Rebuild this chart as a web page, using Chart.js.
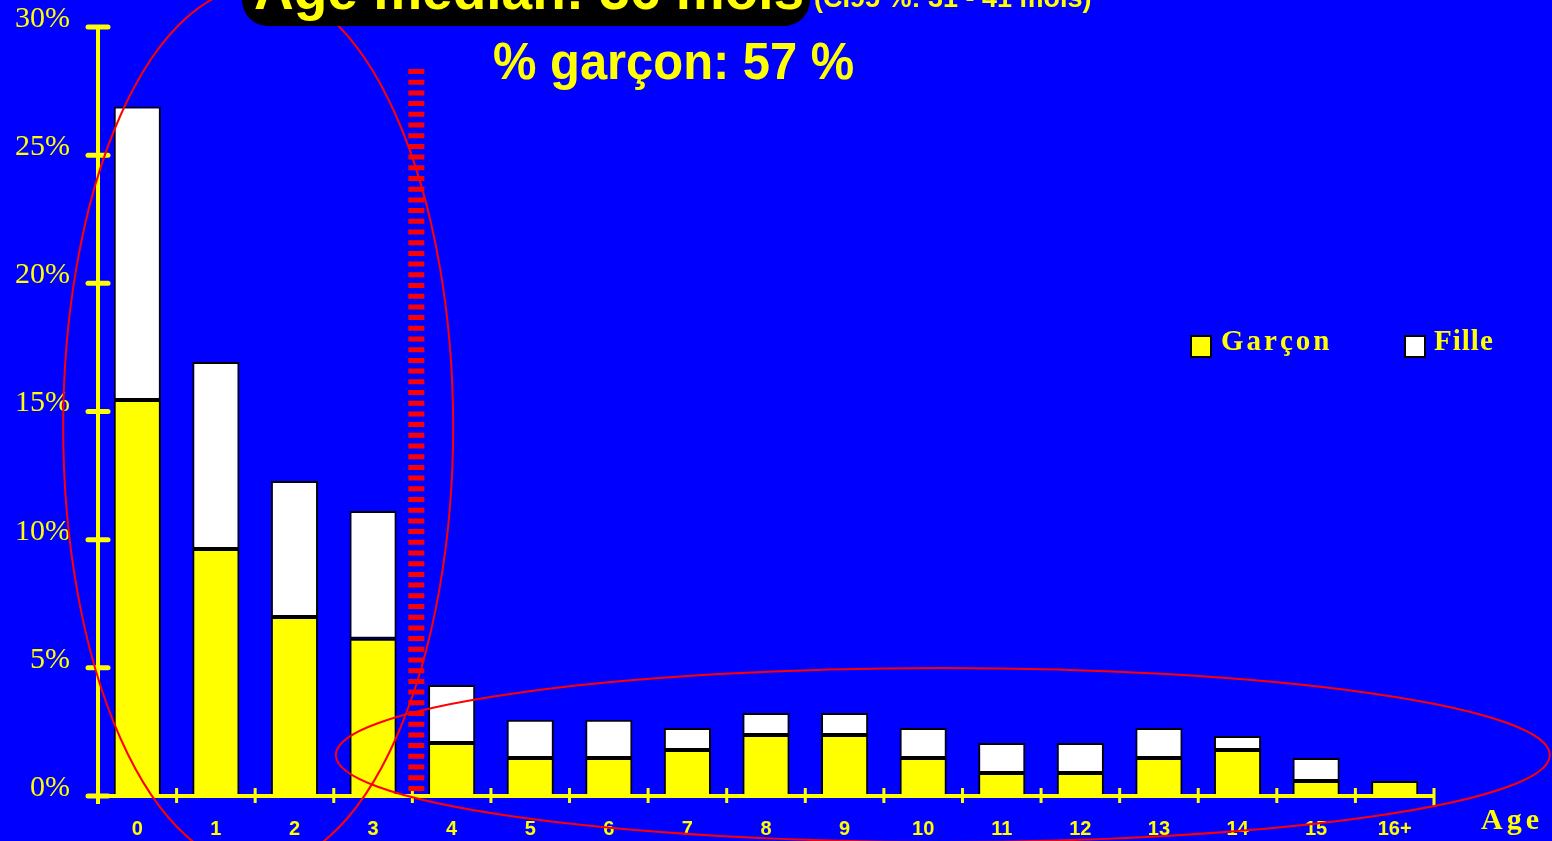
<!DOCTYPE html>
<html>
<head>
<meta charset="utf-8">
<script src="https://cdn.jsdelivr.net/npm/chart.js@4.4.3/dist/chart.umd.min.js"></script>
<style>
  html, body { margin: 0; padding: 0; background: #0000ff; overflow: hidden; }
  #wrap { position: relative; width: 1552px; height: 841px; }
  #wrap canvas { position: absolute; left: 0; top: 0; }
  .title-box {
    position: absolute; left: 242px; top: -40px; width: 568px; height: 66px;
    background: #000; border-radius: 0 0 26px 26px;
  }
  .txt { position: absolute; color: #ffff00; white-space: nowrap; font-family: "Liberation Sans", Arial, sans-serif; font-weight: bold; }
  .main { left: 254px; top: -37px; font-size: 55px; line-height: 55px; }
  .ci { left: 814px; top: -15px; font-size: 27px; line-height: 27px; }
  .boys { left: 493px; top: 33px; font-size: 52px; line-height: 56px; transform: scaleX(0.94); transform-origin: left top; }
  .leg { position: absolute; top: 324px; font-family: "Liberation Serif", "Times New Roman", serif; font-weight: bold; font-size: 29px; color: #ffff00; letter-spacing: 3px; }
  .sw { position: absolute; top: 335px; width: 18px; height: 19px; border: 2px solid #000; }
  .age { position: absolute; left: 1481px; top: 802px; font-family: "Liberation Serif", "Times New Roman", serif; font-weight: bold; font-size: 30px; color: #ffff00; letter-spacing: 4px; }
</style>
</head>
<body>
<div id="wrap">
  <canvas id="c"></canvas>
  <div class="title-box"></div>
  <div class="txt main">Age médian: 36 mois</div>
  <div class="txt ci">(CI95 %: 31 - 41 mois)</div>
  <div class="txt boys">% garçon: 57 %</div>
  <div class="sw" style="left:1190px;background:#ffff00"></div>
  <div class="leg" style="left:1221px">Garçon</div>
  <div class="sw" style="left:1404px;background:#ffffff"></div>
  <div class="leg" style="left:1434px;letter-spacing:1px">Fille</div>
  <div class="age">Age</div>
</div>
<script>
const ages = ['0', '1', '2', '3', '4', '5', '6', '7', '8', '9', '10', '11', '12', '13', '14', '15', '16+'];
const garcon = [15.45, 9.64, 6.98, 6.13, 2.07, 1.48, 1.48, 1.79, 2.38, 2.38, 1.48, 0.9, 0.9, 1.48, 1.79, 0.59, 0.59];
const fille = [11.45, 7.29, 5.31, 4.99, 2.26, 1.49, 1.49, 0.86, 0.86, 0.86, 1.17, 1.17, 1.17, 1.17, 0.55, 0.89, 0];
const yTicks = [0, 5, 10, 15, 20, 25, 30];

const YELLOW = '#ffff00';
const RED = '#ff0000';

// axes with ticks crossing the line, plus the red annotations
const decor = {
  id: 'decor',
  afterDatasetsDraw(chart) {
    const { ctx, chartArea: a, scales: { x, y } } = chart;
    const step = x.getPixelForValue(1) - x.getPixelForValue(0);
    ctx.save();
    ctx.strokeStyle = YELLOW;
    // y axis
    ctx.lineWidth = 4;
    ctx.beginPath();
    ctx.moveTo(a.left, y.getPixelForValue(30));
    ctx.lineTo(a.left, a.bottom + 8);
    ctx.stroke();
    ctx.lineCap = 'round';
    ctx.lineWidth = 5;
    yTicks.forEach(v => {
      const py = y.getPixelForValue(v);
      ctx.beginPath();
      ctx.moveTo(a.left - 10, py);
      ctx.lineTo(a.left + 10, py);
      ctx.stroke();
    });
    // x axis
    ctx.lineCap = 'butt';
    ctx.lineWidth = 4;
    ctx.beginPath();
    ctx.moveTo(a.left, a.bottom);
    ctx.lineTo(a.right, a.bottom);
    ctx.stroke();
    ctx.lineWidth = 3;
    for (let i = 1; i <= ages.length; i++) {
      const px = x.getPixelForValue(i) - step / 2;
      ctx.beginPath();
      ctx.moveTo(px, a.bottom - 8);
      ctx.lineTo(px, a.bottom + (i === ages.length ? 10 : 7));
      ctx.stroke();
    }
    // median marker
    const mx = x.getPixelForValue(3) + step / 2 + 4;
    ctx.strokeStyle = RED;
    ctx.lineWidth = 16;
    ctx.setLineDash([5, 5.7]);
    ctx.beginPath();
    ctx.moveTo(mx, 69);
    ctx.lineTo(mx, a.bottom - 4);
    ctx.stroke();
    ctx.setLineDash([]);
    // ellipses
    ctx.lineWidth = 2;
    ctx.beginPath();
    ctx.ellipse(x.getPixelForValue(1.5) + 3, y.getPixelForValue(14.4), 195, 440, 0, 0, Math.PI * 2);
    ctx.stroke();
    ctx.beginPath();
    ctx.ellipse(x.getPixelForValue(10.25), y.getPixelForValue(1.6), 607, 87, 0, 0, Math.PI * 2);
    ctx.stroke();
    ctx.restore();
  }
};

new Chart(document.getElementById('c'), {
  type: 'bar',
  data: {
    labels: ages,
    datasets: [
      { label: 'Garçon', data: garcon, backgroundColor: YELLOW, borderColor: '#000', borderWidth: 2, barPercentage: 0.6, categoryPercentage: 1 },
      { label: 'Fille', data: fille, backgroundColor: '#ffffff', borderColor: '#000', borderWidth: 2, borderSkipped: false, barPercentage: 0.6, categoryPercentage: 1 }
    ]
  },
  options: {
    responsive: true,
    maintainAspectRatio: false,
    animation: false,
    layout: { padding: { top: 27, right: 118, left: 0, bottom: 0 } },
    plugins: { legend: { display: false }, tooltip: { enabled: false } },
    scales: {
      x: {
        stacked: true,
        grid: { display: false },
        border: { display: false },
        ticks: { color: YELLOW, padding: 13, font: { family: 'Liberation Sans, Arial, sans-serif', weight: 'bold', size: 20 } },
        afterFit(s) { s.height = 45; s.paddingLeft = 0; s.paddingRight = 0; }
      },
      y: {
        stacked: true,
        min: 0,
        max: 30,
        grid: { display: false },
        border: { display: false },
        ticks: {
          stepSize: 5,
          color: YELLOW,
          padding: 20,
          font: { family: 'Liberation Serif, Times New Roman, serif', size: 30, lineHeight: '16px' },
          callback: v => [v + '%', '']
        },
        afterFit(s) { s.width = 98; s.paddingTop = 0; s.paddingBottom = 0; }
      }
    }
  },
  plugins: [decor]
});
</script>
</body>
</html>
